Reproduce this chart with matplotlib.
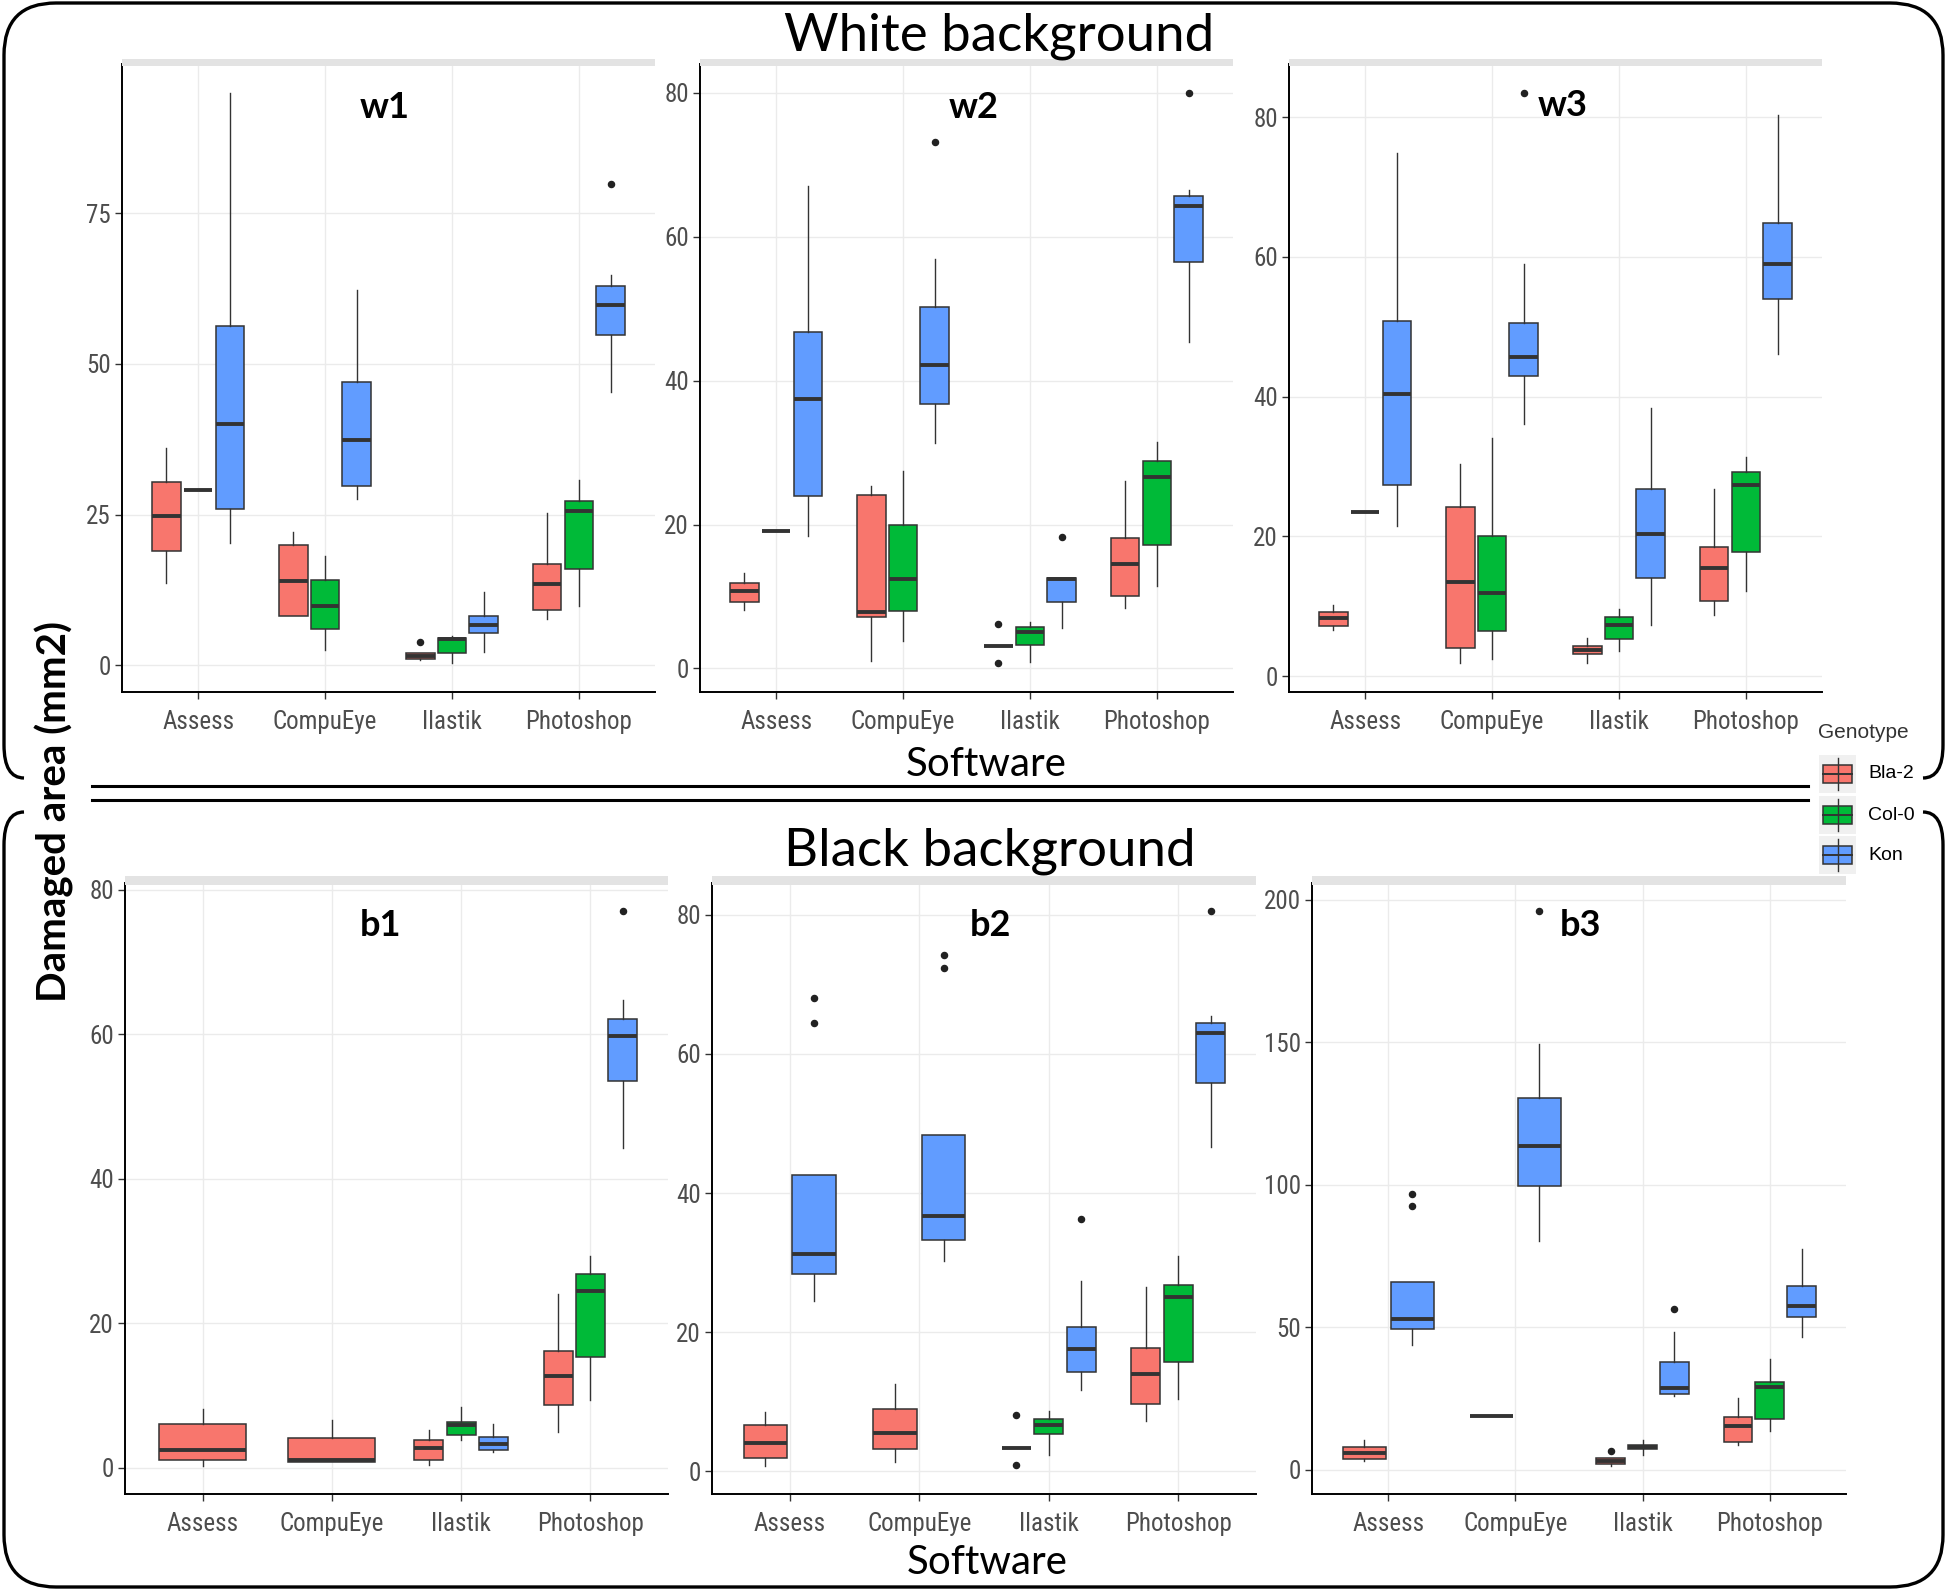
"""
Damaged area per software and genotype, white vs black background
"""

import matplotlib.pyplot as plt
from matplotlib import font_manager
from matplotlib.path import Path
from matplotlib.patches import PathPatch, Rectangle

software = ['Assess', 'CompuEye', 'Ilastik', 'Photoshop']
genotypes = ['Bla-2', 'Col-0', 'Kon']
colors = {'Bla-2': '#F8766D', 'Col-0': '#00BA38', 'Kon': '#619CFF'}

# box stats per software: (whislo, q1, med, q3, whishi, fliers); None = no data
w1 = {
    'Bla-2': [(13.7, 19.0, 24.7, 30.4, 36.0, []), (8.2, 8.2, 13.9, 19.9, 22.1, []),
              (0.8, 1.0, 1.6, 2.1, 2.1, [3.9]), (7.6, 9.2, 13.4, 16.8, 25.3, [])],
    'Col-0': [(29.0, 29.0, 29.0, 29.0, 29.0, []), (2.6, 6.0, 9.9, 14.1, 18.1, []),
              (0.3, 2.0, 4.3, 4.6, 4.8, []), (9.9, 16.0, 25.6, 27.3, 30.8, [])],
    'Kon': [(20.2, 26.0, 40.0, 56.2, 95.0, []), (27.6, 29.8, 37.3, 47.0, 62.2, []),
            (2.2, 5.4, 6.6, 8.2, 12.1, []), (45.4, 54.8, 59.7, 62.9, 64.8, [79.8])],
}
w2 = {
    'Bla-2': [(8.1, 9.25, 10.7, 11.9, 13.2, []), (1.1, 7.2, 7.9, 24.1, 25.3, []),
              (3.1, 3.1, 3.1, 3.1, 3.1, [6.2, 0.7]), (8.4, 10.1, 14.5, 18.1, 26.1, [])],
    'Col-0': [(19.1, 19.1, 19.1, 19.1, 19.1, []), (3.8, 8.0, 12.5, 19.9, 27.4, []),
              (0.9, 3.3, 5.1, 5.7, 6.5, []), (11.4, 17.2, 26.6, 28.8, 31.5, [])],
    'Kon': [(18.4, 24.0, 37.4, 46.8, 67.0, []), (31.3, 36.8, 42.1, 50.2, 56.9, [73.1]),
            (5.6, 9.25, 12.4, 12.6, 12.6, [18.3]), (45.4, 56.4, 64.2, 65.6, 66.4, [80.0])],
}
w3 = {
    'Bla-2': [(6.6, 7.2, 8.3, 9.1, 10.2, []), (1.8, 4.0, 13.4, 24.2, 30.4, []),
              (1.8, 3.2, 3.7, 4.3, 5.4, []), (8.7, 10.7, 15.4, 18.4, 26.7, [])],
    'Col-0': [(23.5, 23.5, 23.5, 23.5, 23.5, []), (2.5, 6.4, 11.9, 20.1, 34.1, []),
              (3.6, 5.3, 7.3, 8.5, 9.6, []), (12.1, 17.8, 27.3, 29.2, 31.4, [])],
    'Kon': [(21.5, 27.4, 40.3, 50.8, 74.8, []), (36.1, 43.0, 45.6, 50.5, 58.9, [83.5]),
            (7.3, 14.0, 20.3, 26.8, 38.3, []), (46.1, 53.9, 58.9, 64.9, 80.3, [])],
}
b1 = {
    'Bla-2': [(0.2, 1.0, 2.4, 6.0, 8.1, []), (0.8, 0.8, 1.1, 4.1, 6.6, []),
              (0.4, 1.05, 2.7, 3.85, 5.2, []), (5.0, 8.7, 12.7, 16.2, 24.1, [])],
    'Col-0': [None, None, (3.85, 4.5, 5.9, 6.3, 8.4, []), (9.4, 15.3, 24.4, 26.8, 29.3, [])],
    'Kon': [None, None, (2.2, 2.5, 3.3, 4.3, 6.1, []), (44.3, 53.6, 59.8, 62.1, 64.7, [77.1])],
}
b2 = {
    'Bla-2': [(0.7, 1.9, 4.1, 6.6, 8.5, []), (1.3, 3.2, 5.5, 8.9, 12.6, []),
              (3.3, 3.3, 3.3, 3.3, 3.3, [8.1, 0.9]), (7.2, 9.6, 13.9, 17.7, 26.5, [])],
    'Col-0': [None, None, (2.3, 5.3, 6.7, 7.5, 8.6, []), (10.3, 15.7, 25.1, 26.7, 30.9, [])],
    'Kon': [(24.4, 28.3, 31.3, 42.6, 42.6, [64.4, 68.1]), (30.2, 33.2, 36.7, 48.4, 48.4, [72.4, 74.3]),
            (11.7, 14.3, 17.5, 20.7, 27.3, [36.3]), (46.6, 55.8, 63.0, 64.5, 65.4, [80.6])],
}
b3 = {
    'Bla-2': [(3.2, 3.9, 6.0, 7.8, 10.5, []), (18.8, 18.8, 18.8, 18.8, 18.8, []),
              (1.2, 2.0, 3.2, 4.1, 4.1, [6.6]), (8.5, 9.8, 15.2, 18.4, 25.0, [])],
    'Col-0': [None, None, (5.1, 7.3, 8.0, 8.8, 10.3, []), (13.5, 17.9, 29.1, 30.7, 38.8, [])],
    'Kon': [(43.6, 49.5, 53.0, 65.8, 65.8, [92.4, 96.8]), (80.3, 99.5, 113.5, 130.3, 149.3, [196.1]),
            (25.9, 26.6, 28.5, 37.6, 48.4, [56.4]), (46.6, 53.4, 57.4, 64.5, 77.5, [])],
}

w1_ticks = [0, 25, 50, 75]
w80_ticks = [0, 20, 40, 60, 80]
b3_ticks = [0, 50, 100, 150, 200]

W, H = 1946, 1590

# narrow font for tick labels if one is installed
_names = {f.name for f in font_manager.fontManager.ttflist}
if 'Liberation Sans Narrow' in _names:
    TICK_FONT, TICK_SIZE = 'Liberation Sans Narrow', 18
elif 'Roboto Condensed' in _names:
    TICK_FONT, TICK_SIZE = 'Roboto Condensed', 18
else:
    TICK_FONT, TICK_SIZE = 'Roboto', 16


def draw_panel(ax, data, ticks):
    vals = []
    for i in range(len(software)):
        present = [g for g in genotypes if data[g][i] is not None]
        step = 0.75 / len(present)
        for k, g in enumerate(present):
            lo, q1, med, q3, hi, fl = data[g][i]
            pos = i + 1 - 0.375 + step * (k + 0.5)
            st = dict(whislo=lo, q1=q1, med=med, q3=q3, whishi=hi, fliers=fl)
            ax.bxp([st], positions=[pos], widths=[step * 0.9], patch_artist=True,
                   showcaps=False, manage_ticks=False,
                   boxprops=dict(facecolor=colors[g], edgecolor='#333333', linewidth=1.1),
                   whiskerprops=dict(color='#333333', linewidth=1.0),
                   medianprops=dict(color='#333333', linewidth=2.8, solid_capstyle='butt'),
                   flierprops=dict(marker='o', markerfacecolor='#222222',
                                   markeredgecolor='#222222', markersize=4.4))
            vals += [lo, hi] + list(fl)
    lo, hi = min(vals), max(vals)
    r = hi - lo
    ax.set_ylim(lo - 0.05 * r, hi + 0.05 * r)
    ax.set_xlim(0.4, 4.6)
    ax.set_xticks(range(1, 5))
    ax.set_xticklabels(software)
    ax.set_yticks(ticks)
    ax.set_axisbelow(True)
    ax.grid(True, color='#EBEBEB', linewidth=1.0)
    for s in ['top', 'right']:
        ax.spines[s].set_visible(False)
    for s in ['left', 'bottom']:
        ax.spines[s].set_color('black')
        ax.spines[s].set_linewidth(1.4)
    ax.tick_params(axis='both', colors='#333333', width=1.0, length=5,
                   labelcolor='#4D4D4D', labelsize=TICK_SIZE)
    ax.tick_params(axis='x', pad=8)
    ax.tick_params(axis='y', pad=3)
    for lab in ax.get_xticklabels() + ax.get_yticklabels():
        lab.set_family(TICK_FONT)


def px_axes(fig, x0, y0, x1, y1):
    return fig.add_axes([x0 / W, 1 - y1 / H, (x1 - x0) / W, (y1 - y0) / H])


def main():
    fig = plt.figure(figsize=(W / 100, H / 100), dpi=100)

    panels = [
        (w1, w1_ticks, (122, 64, 655, 692), 'w1', (385, 107)),
        (w2, w80_ticks, (700, 64, 1233, 692), 'w2', (974, 107)),
        (w3, w80_ticks, (1289, 64, 1822, 692), 'w3', (1563, 105)),
        (b1, w80_ticks, (125, 883, 668, 1494), 'b1', (381, 926)),
        (b2, w80_ticks, (712, 883, 1256, 1494), 'b2', (990, 926)),
        (b3, b3_ticks, (1312, 883, 1846, 1494), 'b3', (1580, 926)),
    ]
    for data, ticks, box, _, _ in panels:
        ax = px_axes(fig, *box)
        draw_panel(ax, data, ticks)

    # overlay in pixel coordinates for frames, titles and legend
    ov = fig.add_axes([0, 0, 1, 1], facecolor='none')
    ov.set_xlim(0, W)
    ov.set_ylim(H, 0)
    ov.axis('off')

    for data, ticks, (x0, y0, x1, y1), label, (lx, ly) in panels:
        sy = 59 if y0 < 400 else 876
        sh = 7 if y0 < 400 else 9
        ov.add_patch(Rectangle((x0, sy), x1 - x0, sh, color='#E3E3E3', lw=0))
        ov.text(lx, ly, label, ha='center', va='center', fontsize=26,
                fontweight='bold', family='Lato', color='black')

    # bracket frames
    C = Path.CURVE3
    top = Path([(24, 778), (4, 778), (4, 745), (4, 55), (4, 3), (56, 3), (1890, 3),
                (1943, 3), (1943, 55), (1943, 745), (1943, 778), (1923, 778)],
               [Path.MOVETO, C, C, Path.LINETO, C, C, Path.LINETO, C, C, Path.LINETO, C, C])
    bot = Path([(24, 812), (4, 812), (4, 845), (4, 1535), (4, 1587), (56, 1587), (1890, 1587),
                (1943, 1587), (1943, 1535), (1943, 845), (1943, 812), (1923, 812)],
               [Path.MOVETO, C, C, Path.LINETO, C, C, Path.LINETO, C, C, Path.LINETO, C, C])
    for p in (top, bot):
        ov.add_patch(PathPatch(p, facecolor='none', edgecolor='black', lw=2.4))
    ov.plot([92, 1808], [786, 786], color='black', lw=2.2)
    ov.plot([92, 1808], [800, 800], color='black', lw=2.2)

    ov.text(999, 36, 'White background', ha='center', va='center', fontsize=38, family='Lato')
    ov.text(990, 851, 'Black background', ha='center', va='center', fontsize=38, family='Lato')
    ov.text(986, 765, 'Software', ha='center', va='center', fontsize=29, family='Lato')
    ov.text(987, 1563, 'Software', ha='center', va='center', fontsize=29, family='Lato')
    ov.text(54, 812, 'Damaged area (mm2)', ha='center', va='center', rotation=90,
            fontsize=29, fontweight='bold', family='Lato')

    # legend
    ov.text(1818, 732, 'Genotype', ha='left', va='center', fontsize=15,
            family='Liberation Sans', color='#333333')
    for k, g in enumerate(genotypes):
        cy = [774, 815, 855][k]
        ov.add_patch(Rectangle((1819, cy - 19), 37, 38, color='#F0F0F0', lw=0))
        ov.plot([1837.5, 1837.5], [cy - 16, cy + 16], color='#333333', lw=1.0)
        ov.add_patch(Rectangle((1823, cy - 9), 29, 18, facecolor=colors[g],
                               edgecolor='#333333', lw=1.1))
        ov.plot([1823, 1852], [cy, cy], color='#333333', lw=1.4)
        ov.text(1868, cy, g, ha='left', va='center', fontsize=14,
                family='Liberation Sans', color='black')

    fig.savefig('out.png', dpi=100)
    plt.close(fig)


if __name__ == '__main__':
    main()
